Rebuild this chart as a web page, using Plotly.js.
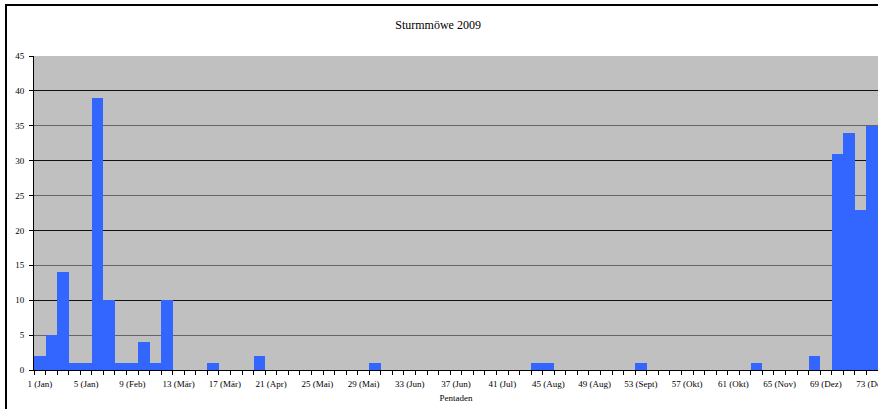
<!DOCTYPE html>
<html>
<head>
<meta charset="utf-8">
<script src="https://cdn.plot.ly/plotly-3.0.1.min.js"></script>
<style>
html, body { margin:0; padding:0; background:#fff; overflow:hidden; width:878px; height:409px; }
#chart { position:absolute; left:0; top:0; width:878px; height:409px; }
#frame { position:absolute; left:5px; top:4px; width:900px; height:420px; border-left:2px solid #000; border-top:2px solid #000; pointer-events:none; }
</style>
</head>
<body>
<div id="chart"></div>
<div id="frame"></div>
<script>
const pentads = [1,2,3,4,5,6,7,8,9,10,11,12,13,14,15,16,17,18,19,20,21,22,23,24,25,26,27,28,29,30,31,32,33,34,35,36,37,38,39,40,41,42,43,44,45,46,47,48,49,50,51,52,53,54,55,56,57,58,59,60,61,62,63,64,65,66,67,68,69,70,71,72,73];
const counts = [2,5,14,1,1,39,10,1,1,4,1,10,0,0,0,1,0,0,0,2,0,0,0,0,0,0,0,0,0,1,0,0,0,0,0,0,0,0,0,0,0,0,0,1,1,0,0,0,0,0,0,0,1,0,0,0,0,0,0,0,0,0,1,0,0,0,0,2,0,31,34,23,35];
const tickPentads = [1,5,9,13,17,21,25,29,33,37,41,45,49,53,57,61,65,69,73];
const tickLabels = ['1 (Jan)','5 (Jan)','9 (Feb)','13 (Mär)','17 (Mär)','21 (Apr)','25 (Mai)','29 (Mai)','33 (Jun)','37 (Jun)','41 (Jul)','45 (Aug)','49 (Aug)','53 (Sept)','57 (Okt)','61 (Okt)','65 (Nov)','69 (Dez)','73 (Dez)'];
const yMax = 45;
const chartTitle = 'Sturmmöwe 2009';
const xTitle = 'Pentaden';

const font = {family:'"Liberation Serif", "Times New Roman", serif', size:9, color:'#000'};

const data = [
  {type:'bar', x:pentads, y:counts, marker:{color:'#3366ff', line:{width:0}}, width:1, hoverinfo:'x+y', showlegend:false},
  {type:'scatter', x:[pentads[0]], y:[0], yaxis:'y2', mode:'markers', marker:{opacity:0}, showlegend:false, hoverinfo:'skip'}
];

const layout = {
  width:878, height:409,
  margin:{l:34, r:0, t:56, b:39, pad:0},
  paper_bgcolor:'#ffffff',
  plot_bgcolor:'#c0c0c0',
  bargap:0,
  font:font,
  title:{text:chartTitle, font:{family:font.family, size:12, color:'#000'}, x:0.499, xref:'container', xanchor:'center', y:1-25/409, yref:'container', yanchor:'middle'},
  xaxis:{
    type:'linear', range:[0.5, 73.5], fixedrange:true,
    tickmode:'array', tickvals:tickPentads, ticktext:tickLabels,
    ticks:'', showgrid:false, zeroline:false,
    showline:true, linecolor:'#000', linewidth:1,
    tickfont:font, ticklabelstandoff:5, ticklabeloverflow:'allow',
    minor:{tickmode:'linear', tick0:0.5, dtick:1, ticks:'outside', ticklen:4, tickcolor:'#000', tickwidth:1, showgrid:false},
    title:{text:xTitle, font:font, standoff:6}
  },
  yaxis:{
    range:[0, yMax], dtick:5, tick0:0, fixedrange:true,
    ticks:'outside', ticklen:4, tickcolor:'#000', tickwidth:1,
    showgrid:true, gridcolor:'#666666', gridwidth:1,
    zeroline:false, showline:true, linecolor:'#000', linewidth:1,
    tickfont:font, ticklabelstandoff:3
  },
  yaxis2:{
    overlaying:'y', range:[0, yMax], dtick:10, tick0:0, fixedrange:true,
    showgrid:true, gridcolor:'#111111', gridwidth:1,
    showticklabels:false, ticks:'', zeroline:false, showline:false
  }
};

Plotly.newPlot('chart', data, layout, {displayModeBar:false, staticPlot:true});
</script>
</body>
</html>
